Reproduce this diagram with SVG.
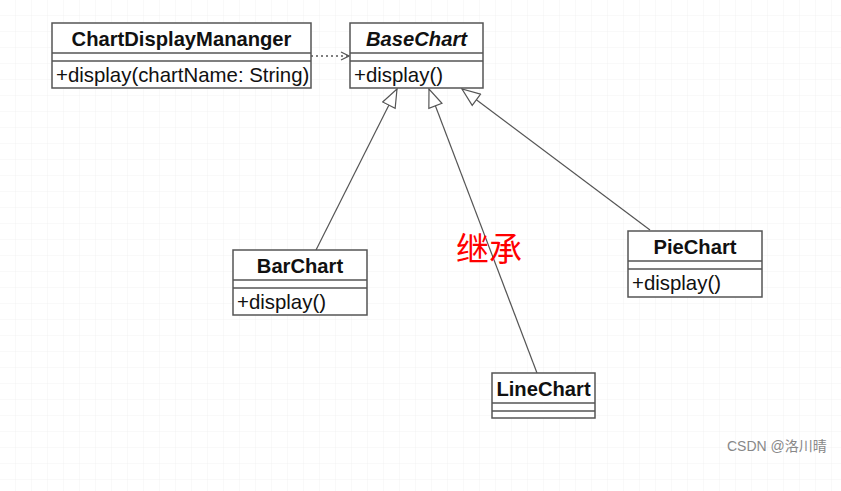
<svg xmlns="http://www.w3.org/2000/svg" width="841" height="491" viewBox="0 0 841 491">
<style>
.box{fill:#fff;stroke:#555;stroke-width:1.5}
.div{stroke:#555;stroke-width:1.5}
.name{font-family:"Liberation Sans",Arial,sans-serif;font-size:20.2px;font-weight:bold;fill:#111;text-anchor:middle}
.op{font-family:"Liberation Sans",Arial,sans-serif;font-size:20.4px;fill:#111}
.inh{stroke:#555;stroke-width:1.2;fill:none}
</style>
<defs>
<pattern id="grid" width="16" height="16" patternUnits="userSpaceOnUse">
<path d="M16 0V16M0 16H16" stroke="#f2f2f2" stroke-width="1" fill="none"/>
</pattern>
<marker id="tri" viewBox="0 0 20 16" refX="19" refY="8" markerWidth="20" markerHeight="16" markerUnits="userSpaceOnUse" orient="auto">
<path d="M1 1L19 8L1 15Z" fill="#fff" stroke="#555" stroke-width="1.2"/>
</marker>
<marker id="open" viewBox="0 0 10 10" refX="9" refY="5" markerWidth="10" markerHeight="10" markerUnits="userSpaceOnUse" orient="auto">
<path d="M1 1L9 5L1 9" fill="none" stroke="#555" stroke-width="1.2"/>
</marker>
</defs>
<rect width="841" height="491" fill="#fff"/>
<rect width="841" height="491" fill="url(#grid)"/>
<g id="connectors">
<line x1="311" y1="56" x2="349" y2="56" stroke="#555" stroke-width="1.5" stroke-dasharray="2,3" marker-end="url(#open)"/>
<line class="inh" x1="316" y1="250" x2="397" y2="89" marker-end="url(#tri)"/>
<line class="inh" x1="537" y1="373" x2="429" y2="89" marker-end="url(#tri)"/>
<line class="inh" x1="650" y1="230" x2="462" y2="89" marker-end="url(#tri)"/>
</g>
<g id="ChartDisplayMananger">
<rect class="box" x="52" y="23" width="259" height="65"/>
<line class="div" x1="52" y1="53" x2="311" y2="53"/>
<line class="div" x1="52" y1="61" x2="311" y2="61"/>
<text class="name" x="181.5" y="46">ChartDisplayMananger</text>
<text class="op" x="56" y="82">+display(chartName: String)</text>
</g>
<g id="BaseChart">
<rect class="box" x="350" y="23" width="133" height="65"/>
<line class="div" x1="350" y1="53" x2="483" y2="53"/>
<line class="div" x1="350" y1="61" x2="483" y2="61"/>
<text class="name" x="416.5" y="46" font-style="italic">BaseChart</text>
<text class="op" x="354" y="82">+display()</text>
</g>
<g id="BarChart">
<rect class="box" x="233" y="250" width="134" height="65"/>
<line class="div" x1="233" y1="280" x2="367" y2="280"/>
<line class="div" x1="233" y1="288" x2="367" y2="288"/>
<text class="name" x="300" y="273">BarChart</text>
<text class="op" x="237" y="309">+display()</text>
</g>
<g id="LineChart">
<rect class="box" x="492" y="373" width="103" height="45"/>
<line class="div" x1="492" y1="403" x2="595" y2="403"/>
<line class="div" x1="492" y1="411" x2="595" y2="411"/>
<text class="name" x="543.5" y="396">LineChart</text>
</g>
<g id="PieChart">
<rect class="box" x="628" y="231" width="134" height="66"/>
<line class="div" x1="628" y1="261" x2="762" y2="261"/>
<line class="div" x1="628" y1="269" x2="762" y2="269"/>
<text class="name" x="695" y="254">PieChart</text>
<text class="op" x="632" y="290">+display()</text>
</g>
<text x="456" y="261" font-family="'Noto Sans CJK SC',sans-serif" font-size="33" fill="#f00">继承</text>
<text x="727" y="451" font-family="'Liberation Sans','Noto Sans CJK SC',sans-serif" font-size="14" fill="#888">CSDN @洛川晴</text>
</svg>
